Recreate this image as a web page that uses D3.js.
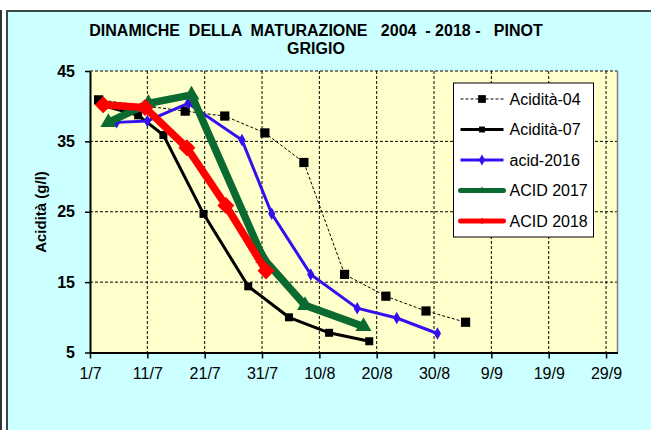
<!DOCTYPE html>
<html>
<head>
<meta charset="utf-8">
<script src="https://cdn.jsdelivr.net/npm/d3@7"></script>
<style>
  body { margin: 0; background: #fff; }
  svg text { font-family: Arial, "Liberation Sans", sans-serif; white-space: pre; }
</style>
</head>
<body>
<svg id="chart" width="651" height="430"></svg>
<script>
// x values = days after 1 July, y values = acidity g/l
const xTickLabels = ["1/7", "11/7", "21/7", "31/7", "10/8", "20/8", "30/8", "9/9", "19/9", "29/9"];
const yTickValues = [5, 15, 25, 35, 45];

const days04 = [1.5, 16.6, 23.5, 30.5, 37.3, 44.4, 51.6, 58.6, 65.5];
const acid04 = [40.9, 39.3, 38.6, 36.2, 32.0, 16.1, 13.0, 10.9, 9.3];

const days07 = [2.3, 8.4, 12.8, 19.8, 27.6, 34.7, 41.7, 48.7];
const acid07 = [40.1, 38.7, 35.9, 24.7, 14.4, 10.0, 7.8, 6.6];

const days16 = [4.65, 10.0, 17.1, 26.5, 31.7, 38.5, 46.6, 53.5, 60.6];
const acid16 = [37.7, 37.9, 40.4, 35.2, 24.7, 16.1, 11.3, 9.9, 7.7];

const days17 = [3.2, 10.2, 17.7, 30.2, 37.5, 47.7];
const acid17 = [37.7, 40.4, 41.6, 18.4, 11.7, 8.7];

const days18 = [2.3, 9.6, 16.9, 23.7, 30.7];
const acid18 = [40.2, 39.8, 34.1, 25.9, 16.6];

const series = [
    { name: "Acidità-04", days: days04, values: acid04, color: "#000", width: 1, dash: "3,2", symbol: d3.symbolSquare, size: 85, rotate: 0 },
    { name: "Acidità-07", days: days07, values: acid07, color: "#000", width: 3, dash: null, symbol: d3.symbolSquare, size: 64, rotate: 0 },
    { name: "acid-2016", days: days16, values: acid16, color: "#3311ee", width: 3, dash: null, symbol: d3.symbolDiamond, size: 45, rotate: 0 },
    { name: "ACID 2017", days: days17, values: acid17, color: "#0a6a30", width: 7.5, dash: null, symbol: d3.symbolTriangle, size: 110, rotate: 0 },
    { name: "ACID 2018", days: days18, values: acid18, color: "#ff0000", width: 7.5, dash: null, symbol: d3.symbolSquare, size: 145, rotate: 45 }
];

const svg = d3.select("#chart");

// chart area
svg.append("rect").attr("x", 0).attr("y", 10).attr("width", 2).attr("height", 420).attr("fill", "#333");
svg.append("rect").attr("x", 8).attr("y", 12).attr("width", 643).attr("height", 418).attr("fill", "#ccffff");
svg.append("line").attr("x1", 7).attr("x2", 651).attr("y1", 11).attr("y2", 11).attr("stroke", "#3a4a4a").attr("stroke-width", 2);
svg.append("line").attr("x1", 7).attr("x2", 7).attr("y1", 10).attr("y2", 430).attr("stroke", "#3a4a4a").attr("stroke-width", 2);

const margin = { left: 90, top: 71, right: 617.5, bottom: 352.5 };

const x = d3.scaleLinear().domain([0, 92]).range([margin.left, margin.right]);
const y = d3.scaleLinear().domain([5, 45]).range([margin.bottom, margin.top]);

// plot area
svg.append("rect")
    .attr("x", margin.left).attr("y", margin.top)
    .attr("width", margin.right - margin.left).attr("height", margin.bottom - margin.top)
    .attr("fill", "#ffffcc");

const tickDays = xTickLabels.map((d, i) => i * 10);

// gridlines
svg.append("g").selectAll("line.v")
    .data(tickDays.slice(1))
    .enter().append("line")
    .attr("x1", d => x(d)).attr("x2", d => x(d))
    .attr("y1", margin.top).attr("y2", margin.bottom)
    .attr("stroke", "#000").attr("stroke-width", 1).attr("stroke-dasharray", "3,2");

svg.append("g").selectAll("line.h")
    .data(yTickValues.slice(1))
    .enter().append("line")
    .attr("x1", margin.left).attr("x2", margin.right)
    .attr("y1", d => y(d)).attr("y2", d => y(d))
    .attr("stroke", "#000").attr("stroke-width", 1).attr("stroke-dasharray", "3,2");

svg.append("line")
    .attr("x1", margin.right).attr("x2", margin.right)
    .attr("y1", margin.top).attr("y2", margin.bottom)
    .attr("stroke", "#808080").attr("stroke-width", 1.5);

// axes
const xAxis = svg.append("g")
    .attr("transform", `translate(0,${margin.bottom})`)
    .call(d3.axisBottom(x).tickValues(tickDays).tickFormat((d, i) => xTickLabels[i]).tickSize(6).tickSizeOuter(0));
xAxis.select(".domain").attr("stroke-width", 2);
xAxis.selectAll(".tick line").attr("stroke-width", 1.5);
xAxis.selectAll(".tick text").attr("font-size", "16px").attr("fill", "#000").attr("dy", "1.1em");

const yAxis = svg.append("g")
    .attr("transform", `translate(${margin.left},0)`)
    .call(d3.axisLeft(y).tickValues(yTickValues).tickSize(5).tickSizeOuter(0).tickPadding(10));
yAxis.select(".domain").attr("stroke-width", 2);
yAxis.selectAll(".tick line").attr("stroke-width", 1.5);
yAxis.selectAll(".tick text").attr("font-size", "16px").attr("font-weight", "bold").attr("fill", "#000");

// titles
svg.append("text").attr("x", 316).attr("y", 36).attr("text-anchor", "middle")
    .attr("font-size", "16px").attr("font-weight", "bold")
    .text("DINAMICHE  DELLA  MATURAZIONE   2004  - 2018 -   PINOT");
svg.append("text").attr("x", 316).attr("y", 54).attr("text-anchor", "middle")
    .attr("font-size", "16px").attr("font-weight", "bold")
    .text("GRIGIO");
svg.append("text")
    .attr("transform", "translate(46,212) rotate(-90)")
    .attr("text-anchor", "middle")
    .attr("font-size", "15px").attr("font-weight", "bold")
    .text("Acidità (g/l)");

// series
const line = d3.line().x(d => x(d[0])).y(d => y(d[1]));

series.forEach(s => {
    const pts = s.days.map((d, i) => [d, s.values[i]]);
    const g = svg.append("g");
    g.append("path")
        .datum(pts)
        .attr("d", line)
        .attr("fill", "none")
        .attr("stroke", s.color)
        .attr("stroke-width", s.width)
        .attr("stroke-linejoin", "miter")
        .attr("stroke-dasharray", s.dash);
    g.selectAll("path.m")
        .data(pts)
        .enter().append("path")
        .attr("d", d3.symbol().type(s.symbol).size(s.size))
        .attr("transform", d => `translate(${x(d[0])},${y(d[1])}) rotate(${s.rotate})`)
        .attr("fill", s.color);
});

// legend
const legend = svg.append("g").attr("transform", "translate(453.5,83)");
legend.append("rect").attr("width", 140).attr("height", 154)
    .attr("fill", "#fff").attr("stroke", "#000").attr("stroke-width", 1);

series.forEach((s, i) => {
    const ly = 16 + i * 30.5;
    const item = legend.append("g").attr("transform", `translate(0,${ly})`);
    item.append("line")
        .attr("x1", 7).attr("x2", 50).attr("y1", 0).attr("y2", 0)
        .attr("stroke", s.color)
        .attr("stroke-width", Math.min(s.width, 5))
        .attr("stroke-linecap", s.width > 3 ? "round" : "butt")
        .attr("stroke-dasharray", s.dash);
    item.append("path")
        .attr("d", d3.symbol().type(s.symbol).size(i === 0 ? 60 : (i > 2 ? 20 : 35)))
        .attr("transform", `translate(28.5,0) rotate(${s.rotate})`)
        .attr("fill", s.color);
    item.append("text")
        .attr("x", 56).attr("y", 5.5)
        .attr("font-size", "16px")
        .text(s.name);
});
</script>
</body>
</html>
